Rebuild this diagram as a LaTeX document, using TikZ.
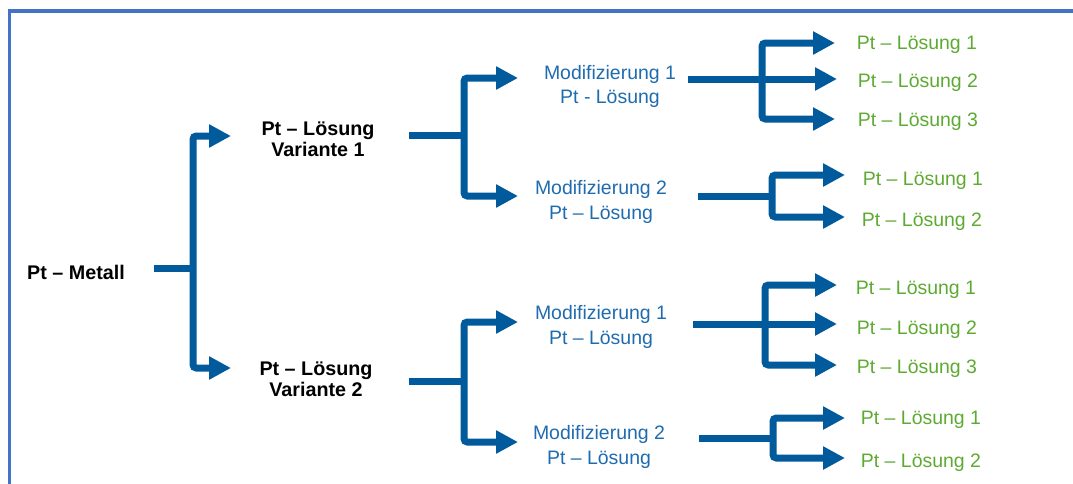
\documentclass[tikz,border=0pt]{standalone}
\usepackage{fontspec}
\setmainfont{Liberation Sans}
\usetikzlibrary{arrows.meta}
\definecolor{arrowblue}{HTML}{005A9C}
\definecolor{textblue}{HTML}{1F6BAF}
\definecolor{leafgreen}{HTML}{5DAA32}
\definecolor{frameblue}{HTML}{4472C4}
\begin{document}
\begin{tikzpicture}[x=0.75pt,y=-0.75pt,
  rootnode/.style={font=\fontsize{14.8}{16}\selectfont\bfseries, inner sep=0pt, align=center, yshift=-1.5pt},
  variant/.style={font=\fontsize{14.8}{15.75}\selectfont\bfseries, inner sep=0pt, align=center, yshift=-1.5pt},
  modnode/.style={font=\fontsize{14.6}{18.4}\selectfont, text=textblue, inner sep=0pt, align=center, yshift=-1.5pt},
  leaf/.style={font=\fontsize{14.6}{17}\selectfont, text=leafgreen, inner sep=0pt, yshift=-1.5pt},
  stem/.style={draw=arrowblue, line width=5.25pt},
  branch/.style={stem, rounded corners=2.5pt, -{Triangle[length=16.5pt,width=16.5pt]}},
  frame/.style={draw=frameblue, line width=2.8pt}]
\clip (0,0) rectangle (1073,483);
\draw[frame] (9.5,495) -- (9.5,11) -- (1085,11);

% text nodes
\node[rootnode] (metall) at (76,270) {Pt – Metall};
\node[variant] (v1) at (318,137.5) {Pt – Lösung\\Variante 1};
\node[variant] (v2) at (316,377.5) {Pt – Lösung\\Variante 2};
\node[modnode] (m1a) at (610,84.5) {Modifizierung 1\\Pt - Lösung};
\node[modnode] (m2a) at (601,200) {Modifizierung 2\\Pt – Lösung};
\node[modnode] (m1b) at (601,325) {Modifizierung 1\\Pt – Lösung};
\node[modnode] (m2b) at (599,445) {Modifizierung 2\\Pt – Lösung};
\node[leaf] (g1a1) at (917,43) {Pt – Lösung 1};
\node[leaf] (g1a2) at (918,81) {Pt – Lösung 2};
\node[leaf] (g1a3) at (918,120) {Pt – Lösung 3};
\node[leaf] (g2a1) at (923,179) {Pt – Lösung 1};
\node[leaf] (g2a2) at (922,220) {Pt – Lösung 2};
\node[leaf] (g1b1) at (916,288) {Pt – Lösung 1};
\node[leaf] (g1b2) at (917,328) {Pt – Lösung 2};
\node[leaf] (g1b3) at (917,367) {Pt – Lösung 3};
\node[leaf] (g2b1) at (921,418) {Pt – Lösung 1};
\node[leaf] (g2b2) at (921,461) {Pt – Lösung 2};

% ports: stem starts, junctions, arrow tips
\coordinate (s0) at (154,268);  \coordinate (j0) at (193,268);
\coordinate (t-v1) at (231,136); \coordinate (t-v2) at (231,368);
\coordinate (s1) at (409,135);  \coordinate (j1) at (464,135);
\coordinate (t-m1a) at (518,78); \coordinate (t-m2a) at (518,196);
\coordinate (s2) at (409,381);  \coordinate (j2) at (464,381);
\coordinate (t-m1b) at (518,322); \coordinate (t-m2b) at (518,442);
\coordinate (s3) at (688,79);   \coordinate (j3) at (762,79);
\coordinate (t-g1a1) at (835,43); \coordinate (t-g1a2) at (837,79); \coordinate (t-g1a3) at (835,119);
\coordinate (s4) at (698,196);  \coordinate (j4) at (772,196);
\coordinate (t-g2a1) at (845,175); \coordinate (t-g2a2) at (845,217);
\coordinate (s5) at (693,324);  \coordinate (j5) at (765,324);
\coordinate (t-g1b1) at (837,285); \coordinate (t-g1b2) at (837,324); \coordinate (t-g1b3) at (837,365);
\coordinate (s6) at (699,438);  \coordinate (j6) at (773,438);
\coordinate (t-g2b1) at (845,418); \coordinate (t-g2b2) at (845,458);

% connectors
\draw[stem] (s0) -- (j0);
\draw[branch] (j0) |- (t-v1);
\draw[branch] (j0) |- (t-v2);

\draw[stem] (s1) -- (j1);
\draw[branch] (j1) |- (t-m1a);
\draw[branch] (j1) |- (t-m2a);

\draw[stem] (s2) -- (j2);
\draw[branch] (j2) |- (t-m1b);
\draw[branch] (j2) |- (t-m2b);

\draw[stem] (s3) -- (j3);
\draw[branch] (j3) |- (t-g1a1);
\draw[branch] (j3) -- (t-g1a2);
\draw[branch] (j3) |- (t-g1a3);

\draw[stem] (s4) -- (j4);
\draw[branch] (j4) |- (t-g2a1);
\draw[branch] (j4) |- (t-g2a2);

\draw[stem] (s5) -- (j5);
\draw[branch] (j5) |- (t-g1b1);
\draw[branch] (j5) -- (t-g1b2);
\draw[branch] (j5) |- (t-g1b3);

\draw[stem] (s6) -- (j6);
\draw[branch] (j6) |- (t-g2b1);
\draw[branch] (j6) |- (t-g2b2);
\end{tikzpicture}
\end{document}
